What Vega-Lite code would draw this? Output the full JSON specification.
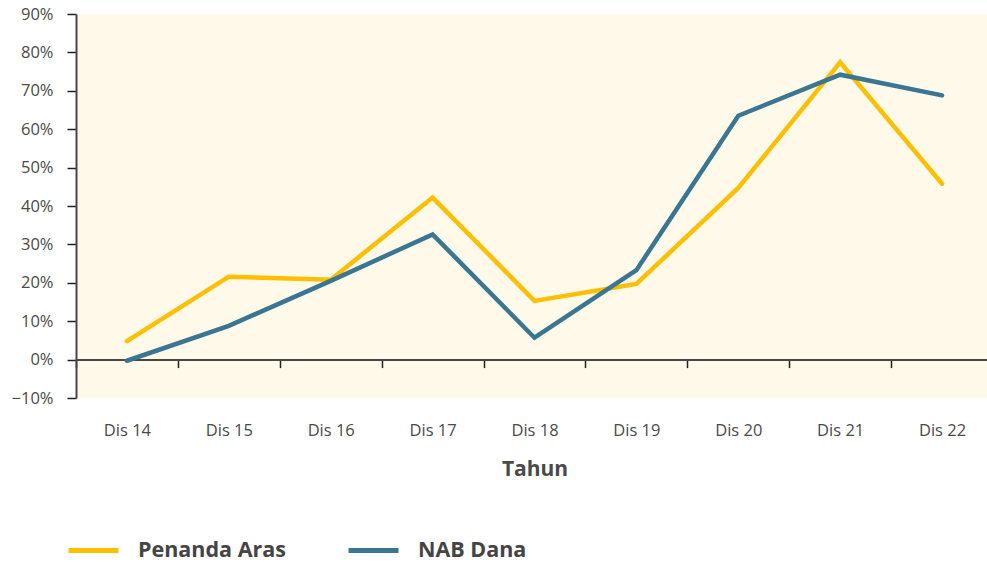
{
  "$schema": "https://vega.github.io/schema/vega-lite/v6.json",
  "width": 917,
  "height": 384,
  "autosize": {"type": "none"},
  "padding": {"left": 76, "top": 14, "right": 0, "bottom": 165},
  "background": "#ffffff",
  "view": {"fill": "#FFF9EA", "stroke": null},
  "config": {"font": "Open Sans"},
  "data": {
    "values": [
      {"tahun": "Dis 14", "siri": "Penanda Aras", "nilai": 0.048},
      {"tahun": "Dis 15", "siri": "Penanda Aras", "nilai": 0.216},
      {"tahun": "Dis 16", "siri": "Penanda Aras", "nilai": 0.208},
      {"tahun": "Dis 17", "siri": "Penanda Aras", "nilai": 0.422},
      {"tahun": "Dis 18", "siri": "Penanda Aras", "nilai": 0.153},
      {"tahun": "Dis 19", "siri": "Penanda Aras", "nilai": 0.197},
      {"tahun": "Dis 20", "siri": "Penanda Aras", "nilai": 0.447},
      {"tahun": "Dis 21", "siri": "Penanda Aras", "nilai": 0.774},
      {"tahun": "Dis 22", "siri": "Penanda Aras", "nilai": 0.458},
      {"tahun": "Dis 14", "siri": "NAB Dana", "nilai": -0.003},
      {"tahun": "Dis 15", "siri": "NAB Dana", "nilai": 0.088},
      {"tahun": "Dis 16", "siri": "NAB Dana", "nilai": 0.205},
      {"tahun": "Dis 17", "siri": "NAB Dana", "nilai": 0.326},
      {"tahun": "Dis 18", "siri": "NAB Dana", "nilai": 0.057},
      {"tahun": "Dis 19", "siri": "NAB Dana", "nilai": 0.233},
      {"tahun": "Dis 20", "siri": "NAB Dana", "nilai": 0.635},
      {"tahun": "Dis 21", "siri": "NAB Dana", "nilai": 0.742},
      {"tahun": "Dis 22", "siri": "NAB Dana", "nilai": 0.688}
    ]
  },
  "mark": {"type": "line", "strokeWidth": 4.5, "strokeCap": "round", "strokeJoin": "miter"},
  "encoding": {
    "x": {
      "field": "tahun",
      "type": "ordinal",
      "sort": null,
      "scale": {"type": "band", "paddingInner": 0, "paddingOuter": 0},
      "axis": {
        "title": "Tahun",
        "orient": "bottom",
        "offset": -38.4,
        "tickBand": "extent",
        "labelAngle": 0,
        "domainColor": "#4a4640",
        "domainWidth": 2,
        "tickColor": "#222222",
        "tickWidth": 1.5,
        "tickSize": 8,
        "labelPadding": 55,
        "labelFontSize": 16.5,
        "labelColor": "#4a4a4a",
        "titleFontSize": 21,
        "titleFontWeight": "bold",
        "titleColor": "#4a4a4a",
        "titlePadding": 19
      }
    },
    "y": {
      "field": "nilai",
      "type": "quantitative",
      "scale": {"domain": [-0.1, 0.9], "nice": false},
      "axis": {
        "title": null,
        "format": ".0%",
        "values": [-0.1, 0, 0.1, 0.2, 0.3, 0.4, 0.5, 0.6, 0.7, 0.8, 0.9],
        "grid": false,
        "domainColor": "#4a4640",
        "domainWidth": 2,
        "tickColor": "#222222",
        "tickWidth": 1.5,
        "tickSize": 9,
        "labelPadding": 14,
        "labelFontSize": 16.5,
        "labelColor": "#4a4a4a"
      }
    },
    "color": {
      "field": "siri",
      "type": "nominal",
      "sort": ["Penanda Aras", "NAB Dana"],
      "scale": {"domain": ["Penanda Aras", "NAB Dana"], "range": ["#FDBF00", "#3A7691"]},
      "legend": {
        "title": null,
        "orient": "none",
        "direction": "horizontal",
        "legendX": -10,
        "legendY": 509,
        "symbolType": "stroke",
        "symbolSize": 2500,
        "symbolStrokeWidth": 5,
        "labelOffset": 17,
        "labelFontSize": 21.5,
        "labelFontWeight": "bold",
        "labelColor": "#444444",
        "columnPadding": 52
      }
    }
  }
}
